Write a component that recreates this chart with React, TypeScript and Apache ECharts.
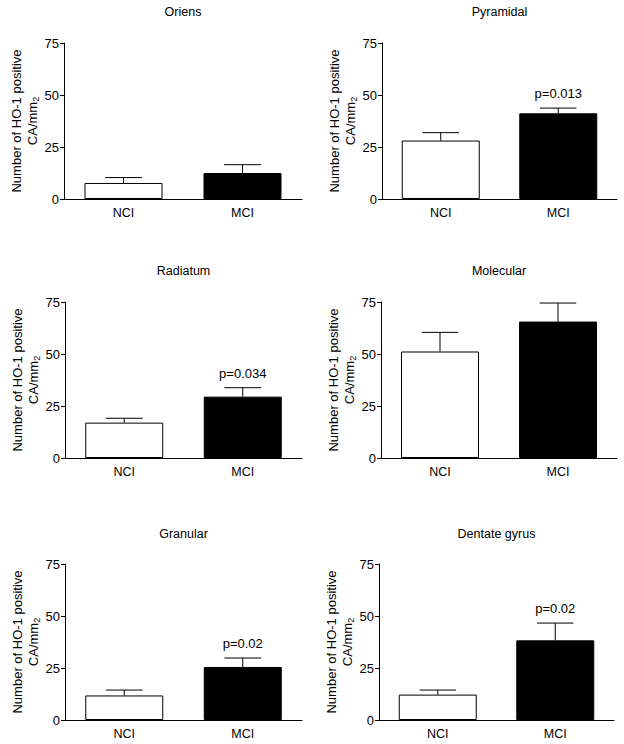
import React, { useEffect, useRef } from "react";
import * as echarts from "echarts";

// ---- Data ----
const categories = ["NCI", "MCI"];
const panelTitles = ["Oriens", "Pyramidal", "Radiatum", "Molecular", "Granular", "Dentate gyrus"];
const nciMeans = [7.7, 28.1, 17.0, 51.2, 11.8, 12.2];
const nciSem = [2.6, 3.8, 2.1, 9.2, 2.6, 2.2];
const mciMeans = [12.5, 41.2, 29.5, 65.6, 25.5, 38.3];
const mciSem = [4.0, 2.5, 4.3, 8.9, 4.3, 8.3];
const pLabels = ["", "p=0.013", "p=0.034", "", "p=0.02", "p=0.02"];
const yTicks = [0, 25, 50, 75];
const yAxisName = "Number of HO-1 positive\n{b|CA/mm}{s|2}";

// ---- Layout (pixels) ----
const gridBoxes = [
  { left: 64, top: 43, width: 238, height: 156 },
  { left: 382, top: 43, width: 235, height: 156 },
  { left: 65, top: 302, width: 237, height: 156 },
  { left: 381, top: 302, width: 236, height: 156 },
  { left: 65, top: 564, width: 237, height: 156 },
  { left: 379, top: 564, width: 235, height: 156 },
];
const titleTops = [5, 5, 264, 264, 527, 527];

const FONT = "'Liberation Sans', Arial, sans-serif";

export default function App() {
  const ref = useRef<HTMLDivElement>(null);

  useEffect(() => {
    if (!ref.current) return;
    const chart = echarts.init(ref.current, undefined, { renderer: "svg" });

    const grid: any[] = [];
    const xAxis: any[] = [];
    const yAxis: any[] = [];
    const title: any[] = [];
    const series: any[] = [];

    panelTitles.forEach((name, i) => {
      const g = gridBoxes[i];
      grid.push({ ...g, containLabel: false });
      title.push({
        text: name,
        left: g.left + g.width / 2,
        top: titleTops[i],
        padding: 0,
        textAlign: "center",
        textStyle: { fontSize: 12.5, fontWeight: "normal", color: "#000", fontFamily: FONT },
      });
      xAxis.push({
        type: "category",
        gridIndex: i,
        data: categories,
        axisLine: { lineStyle: { color: "#000", width: 1 } },
        axisTick: { show: false },
        axisLabel: { color: "#000", fontSize: 12.5, margin: 7, fontFamily: FONT },
      });
      yAxis.push({
        type: "value",
        gridIndex: i,
        min: yTicks[0],
        max: yTicks[yTicks.length - 1],
        interval: yTicks[1] - yTicks[0],
        axisLine: { show: true, lineStyle: { color: "#000", width: 1 } },
        axisTick: { show: true, length: 4, lineStyle: { color: "#000" } },
        axisLabel: { color: "#000", fontSize: 13, margin: 5, fontFamily: FONT },
        splitLine: { show: false },
        name: yAxisName,
        nameLocation: "middle",
        nameRotate: 90,
        nameGap: 20,
        nameTextStyle: {
          color: "#000",
          fontSize: 13,
          fontFamily: FONT,
          lineHeight: 16,
          align: "center",
          rich: {
            b: { fontSize: 13, lineHeight: 16, color: "#000", fontFamily: FONT },
            s: { fontSize: 9, lineHeight: 9, color: "#000", fontFamily: FONT, verticalAlign: "bottom" },
          },
        },
      });
      series.push({
        type: "bar",
        xAxisIndex: i,
        yAxisIndex: i,
        barWidth: 78,
        data: [
          { value: nciMeans[i], itemStyle: { color: "#fff", borderColor: "#000", borderWidth: 1 } },
          { value: mciMeans[i], itemStyle: { color: "#000", borderColor: "#000", borderWidth: 1 } },
        ],
        z: 2,
      });
      series.push({
        type: "custom",
        xAxisIndex: i,
        yAxisIndex: i,
        z: 3,
        data: [
          [0, nciMeans[i], nciSem[i], ""],
          [1, mciMeans[i], mciSem[i], pLabels[i]],
        ],
        renderItem: (params: any, api: any) => {
          const x = api.value(0);
          const mean = api.value(1);
          const sem = api.value(2);
          const label = api.value(3);
          const base = api.coord([x, mean]);
          const top = api.coord([x, mean + sem]);
          const band = api.size([1, 0])[0];
          const half = band * 0.155;
          const children: any[] = [
            {
              type: "line",
              shape: { x1: base[0], y1: base[1], x2: top[0], y2: top[1] },
              style: { stroke: "#000", lineWidth: 1 },
            },
            {
              type: "line",
              shape: { x1: top[0] - half, y1: top[1], x2: top[0] + half, y2: top[1] },
              style: { stroke: "#000", lineWidth: 1 },
            },
          ];
          if (label) {
            children.push({
              type: "text",
              x: top[0],
              y: top[1] - 8,
              style: {
                text: label,
                fill: "#000",
                fontSize: 13,
                fontFamily: FONT,
                textAlign: "center",
                textVerticalAlign: "bottom",
              },
            });
          }
          return { type: "group", children };
        },
      });
    });

    chart.setOption({
      animation: false,
      backgroundColor: "#fff",
      textStyle: { fontFamily: FONT },
      title,
      grid,
      xAxis,
      yAxis,
      series,
    });

    return () => chart.dispose();
  }, []);

  return (
    <div
      ref={ref}
      style={{ position: "absolute", left: 0, top: 0, width: 624, height: 744, background: "#fff" }}
    />
  );
}
